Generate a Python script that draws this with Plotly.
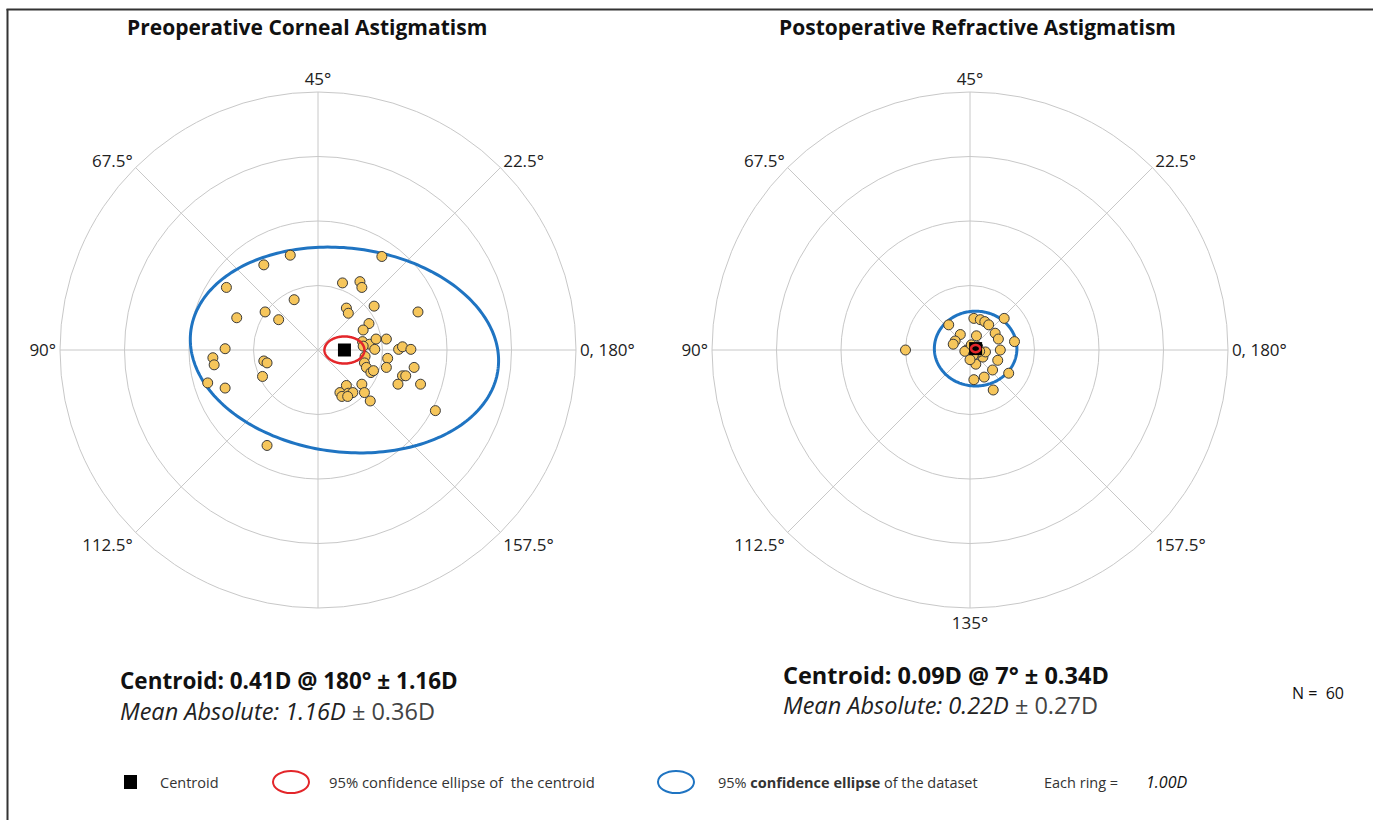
import numpy as np
import plotly.graph_objects as go

W, H = 1373, 820

# Double-angle vector components (D): x = C*cos(2*axis), y = C*sin(2*axis)
pre_x = [-0.43, -0.84, 0.99, -1.42, 0.38, 0.65, 0.68, -0.37, -1.26, -0.82,
         -0.61, 0.44, 0.47, 0.87, 1.55, 0.79, 0.70, 0.69, 0.80, 0.90,
         1.06, 0.88, 1.25, 1.31, 1.44, 1.08, 0.73, 0.72, 0.75, 0.82,
         0.86, 1.06, 1.49, 1.31, 1.36, 1.24, 1.59, 0.68, 0.72, 0.81,
         0.44, 0.34, 0.47, 0.54, 0.37, 0.46, 1.82, -1.44, -1.63, -1.61,
         -1.71, -1.44, -0.84, -0.79, -0.86, -0.79, 0.70]
pre_y = [1.47, 1.32, 1.45, 0.97, 1.04, 1.06, 0.97, 0.78, 0.50, 0.59,
         0.47, 0.65, 0.57, 0.68, 0.59, 0.41, 0.31, 0.13, 0.09, 0.17,
         0.17, 0.01, 0.01, 0.05, 0.01, -0.13, -0.10, -0.20, -0.27, -0.35,
         -0.32, -0.27, -0.27, -0.40, -0.40, -0.53, -0.53, -0.53, -0.66, -0.79,
         -0.55, -0.66, -0.67, -0.66, -0.72, -0.72, -0.94, 0.02, -0.12, -0.23,
         -0.51, -0.59, -0.17, -0.20, -0.41, -1.48, 0.06]

post_x = [-1.00, -0.33, -0.15, -0.23, -0.26, 0.06, 0.16, 0.23, 0.29, 0.53,
          0.39, 0.44, 0.69, 0.10, 0.47, 0.43, 0.60, 0.35, 0.22, 0.06,
          0.36, 0.09, 0.20, 0.24, 0.00, 0.05, -0.05, 0.10, 0.12, -0.08,
          0.02, 0.15, 0.05, 0.00]
post_y = [0.00, 0.39, 0.24, 0.14, 0.09, 0.49, 0.47, 0.44, 0.39, 0.49,
          0.26, 0.17, 0.13, 0.22, 0.00, -0.16, -0.36, -0.31, -0.42, -0.46,
          -0.62, -0.22, -0.11, -0.03, 0.00, 0.02, 0.00, -0.05, 0.05, -0.02,
          0.08, -0.02, -0.08, -0.15]

# Centroids: magnitude (D) and axis (deg)
pre_centroid = (0.41, 180)
post_centroid = (0.09, 7)

# 95% ellipses: semi-axes (D) and rotation (deg) in the double-angle plane
pre_data_ell = (2.40, 1.58, -7)
pre_cent_ell = (0.31, 0.21, 0)
post_data_ell = (0.64, 0.58, 0)
post_cent_ell = (0.07, 0.055, 0)

ring_max = 4
tick_vals = [0, 45, 90, 135, 180, 225, 270, 315]
tick_text_pre = ["0, 180°", "22.5°", "45°", "67.5°", "90°", "112.5°", "", "157.5°"]
tick_text_post = ["0, 180°", "22.5°", "45°", "67.5°", "90°", "112.5°", "135°", "157.5°"]

POINT_FILL = "#F6C65B"
POINT_LINE = "#3a3a3a"
RED = "#E3262A"
BLUE = "#1F74C2"
GRID = "#c8c8c8"
FONT = "Open Sans"


def to_polar(x, y):
    x = np.asarray(x, float)
    y = np.asarray(y, float)
    return np.hypot(x, y), np.degrees(np.arctan2(y, x))


def centroid_xy(c):
    mag, ax = c
    t = np.radians(2 * ax)
    return mag * np.cos(t), mag * np.sin(t)


def ellipse_polar(center, ell, n=240):
    cx, cy = center
    a, b, rot = ell
    t = np.linspace(0, 2 * np.pi, n)
    p = np.radians(rot)
    ex = cx + a * np.cos(t) * np.cos(p) - b * np.sin(t) * np.sin(p)
    ey = cy + a * np.cos(t) * np.sin(p) + b * np.sin(t) * np.cos(p)
    return to_polar(ex, ey)


fig = go.Figure()


def add_panel(subplot, xs, ys, cent, data_ell, cent_ell):
    c = centroid_xy(cent)
    r, th = ellipse_polar(c, data_ell)
    fig.add_trace(go.Scatterpolar(r=r, theta=th, mode="lines", subplot=subplot,
                                  line=dict(color=BLUE, width=3), hoverinfo="skip",
                                  showlegend=False))
    r, th = to_polar(xs, ys)
    fig.add_trace(go.Scatterpolar(r=r, theta=th, mode="markers", subplot=subplot,
                                  marker=dict(size=10, color=POINT_FILL,
                                              line=dict(color=POINT_LINE, width=1)),
                                  showlegend=False))
    r, th = to_polar([c[0]], [c[1]])
    fig.add_trace(go.Scatterpolar(r=r, theta=th, mode="markers", subplot=subplot,
                                  marker=dict(size=13, symbol="square", color="black"),
                                  showlegend=False))
    r, th = ellipse_polar(c, cent_ell)
    fig.add_trace(go.Scatterpolar(r=r, theta=th, mode="lines", subplot=subplot,
                                  line=dict(color=RED, width=2.5), hoverinfo="skip",
                                  showlegend=False))


add_panel("polar", pre_x, pre_y, pre_centroid, pre_data_ell, pre_cent_ell)
add_panel("polar2", post_x, post_y, post_centroid, post_data_ell, post_cent_ell)


def polar_layout(x0, ticktext):
    R = 258
    cx, cy = x0, 350
    return dict(
        domain=dict(x=[(cx - R) / W, (cx + R) / W], y=[(H - cy - R) / H, (H - cy + R) / H]),
        bgcolor="white",
        radialaxis=dict(range=[0, ring_max], dtick=1, showticklabels=False, ticks="",
                        showline=False, gridcolor=GRID, gridwidth=1),
        angularaxis=dict(rotation=0, direction="counterclockwise", tickmode="array",
                         tickvals=tick_vals, ticktext=ticktext, ticks="",
                         showline=True, linecolor=GRID, linewidth=1,
                         gridcolor=GRID, gridwidth=1,
                         tickfont=dict(family=FONT, size=17, color="#222")),
    )


def px(x):
    return x / W


def py(y):
    return 1 - y / H


annotations = []


def note(x, y, text, size, xanchor="left", color="#111", family=FONT):
    annotations.append(dict(x=px(x), y=py(y), xref="paper", yref="paper", text=text,
                            showarrow=False, xanchor=xanchor, yanchor="middle",
                            font=dict(family=family, size=size, color=color)))


note(307, 27, "<b>Preoperative Corneal Astigmatism</b>", 21, "center")
note(977, 27, "<b>Postoperative Refractive Astigmatism</b>", 21, "center")

note(118, 680, "<b>Centroid: 0.41D @ 180° ± 1.16D</b>", 22.5)
note(118, 711, "<i>Mean Absolute: 1.16D</i> <span style='color:#444'>± 0.36D</span>", 23.5,
     color="#222")
note(781, 675, "<b>Centroid: 0.09D @ 7° ± 0.34D</b>", 23.5)
note(781, 705, "<i>Mean Absolute: 0.22D</i> <span style='color:#444'>± 0.27D</span>", 23.5,
     color="#222")
note(1290, 693, "N =  60", 16)

note(158, 782, "Centroid", 14.5, color="#333")
note(327, 782, "95% confidence ellipse of  the centroid", 14.8, color="#333")
note(716, 782, "95% <b>confidence ellipse</b> of the dataset", 14.5, color="#333")
note(1042, 782, "Each ring =", 14.5, color="#333")
note(1144, 782, "<i>1.00D</i>", 16, color="#111")

shapes = [
    dict(type="rect", xref="paper", yref="paper", x0=px(124), x1=px(137), y0=py(789), y1=py(775),
         fillcolor="black", line=dict(width=0)),
    dict(type="circle", xref="paper", yref="paper", x0=px(273), x1=px(309), y0=py(793), y1=py(771),
         line=dict(color=RED, width=2)),
    dict(type="circle", xref="paper", yref="paper", x0=px(658), x1=px(694), y0=py(793), y1=py(771),
         line=dict(color=BLUE, width=2)),
    dict(type="line", xref="paper", yref="paper", x0=px(6.5), x1=1, y0=py(9.5), y1=py(9.5),
         line=dict(color="#333", width=2)),
    dict(type="line", xref="paper", yref="paper", x0=px(7.5), x1=px(7.5), y0=py(9), y1=0,
         line=dict(color="#333", width=2)),
]

fig.update_layout(
    width=W, height=H,
    margin=dict(l=0, r=0, t=0, b=0),
    paper_bgcolor="white",
    showlegend=False,
    polar=polar_layout(318, tick_text_pre),
    polar2=polar_layout(970, tick_text_post),
    annotations=annotations,
    shapes=shapes,
)

fig.write_html("out.html")
